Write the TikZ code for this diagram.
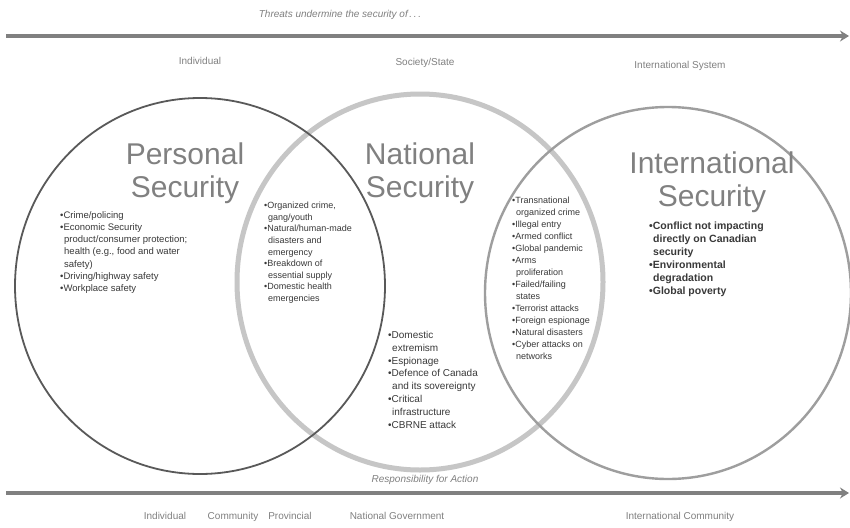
\documentclass[tikz,border=0pt]{standalone}
\usepackage{fontspec}
\setmainfont{Liberation Sans}
\usetikzlibrary{arrows.meta}
\definecolor{inkdark}{gray}{0.35}
\definecolor{inkmid}{gray}{0.5}
\definecolor{inklight}{gray}{0.62}
\tikzset{
  axisarrow/.style={line width=4pt, draw=inkmid, -{Stealth[length=9pt,width=11pt]}},
  axislabel/.style={font=\itshape\fontsize{10}{12}\selectfont, text=inkmid, anchor=base},
  levellabel/.style={font=\fontsize{10}{12}\selectfont, text=inkmid, anchor=base},
  title/.style={font=\fontsize{30}{33}\selectfont, text=inkmid, align=center},
  listtext/.style={anchor=north west, align=left, text=gray!45!black, inner sep=0pt},
  personalring/.style={draw=inkdark, line width=1.8pt},
  nationalring/.style={draw=gray!45, line width=5pt},
  internationalring/.style={draw=inklight, line width=2.4pt}
}
\newcommand{\ind}{\hspace*{4pt}}
\begin{document}
\begin{tikzpicture}[x=1pt,y=-1pt]
\useasboundingbox[fill=white] (0,0) rectangle (850,527);

% top axis
\coordinate (topL) at (6,36);
\coordinate (topR) at (849,36);
\draw[axisarrow] (topL) -- (topR);
\node[axislabel] (threats) at (340,18) {Threats undermine the security of\,.\,.\,.};
\node[levellabel] (lvIndividual) at (200,64) {Individual};
\node[levellabel] (lvSociety) at (425,66) {Society/State};
\node[levellabel] (lvSystem) at (680,68) {International System};

% circles
\draw[nationalring] (420,282) ellipse [x radius=183, y radius=188];
\draw[personalring] (200,286) ellipse [x radius=185, y radius=188];
\draw[internationalring] (668,293) ellipse [x radius=183, y radius=186];

% titles
\node[title] (tPersonal) at (185,173) {Personal\\Security};
\node[title] (tNational) at (420,173) {National\\Security};
\node[title] (tInternational) at (712,182) {International\\Security};

% lists
\node[listtext, font=\fontsize{9.5}{12.3}\selectfont] (lPersonal) at (60,211) {%
•Crime/policing\\
•Economic Security\\
\ind product/consumer protection;\\
\ind health (e.g., food and water\\
\ind safety)\\
•Driving/highway safety\\
•Workplace safety};

\node[listtext, font=\fontsize{9}{11.6}\selectfont] (lPN) at (264,202) {%
•Organized crime,\\
\ind gang/youth\\
•Natural/human-made\\
\ind disasters and\\
\ind emergency\\
•Breakdown of\\
\ind essential supply\\
•Domestic health\\
\ind emergencies};

\node[listtext, font=\fontsize{10}{12.8}\selectfont] (lNational) at (388,331) {%
•Domestic\\
\ind extremism\\
•Espionage\\
•Defence of Canada\\
\ind and its sovereignty\\
•Critical\\
\ind infrastructure\\
•CBRNE attack};

\node[listtext, font=\fontsize{9}{12}\selectfont] (lNI) at (512,197) {%
•Transnational\\
\ind organized crime\\
•Illegal entry\\
•Armed conflict\\
•Global pandemic\\
•Arms\\
\ind proliferation\\
•Failed/failing\\
\ind states\\
•Terrorist attacks\\
•Foreign espionage\\
•Natural disasters\\
•Cyber attacks on\\
\ind networks};

\node[listtext, font=\bfseries\fontsize{10.5}{13}\selectfont] (lInternational) at (649,222) {%
•Conflict not impacting\\
\ind directly on Canadian\\
\ind security\\
•Environmental\\
\ind degradation\\
•Global poverty};

% bottom axis
\node[axislabel] (responsibility) at (425,482) {Responsibility for Action};
\coordinate (botL) at (6,493);
\coordinate (botR) at (849,493);
\draw[axisarrow] (botL) -- (botR);
\node[levellabel] (rIndividual) at (165,519) {Individual};
\node[levellabel] (rCommunity) at (233,519) {Community};
\node[levellabel] (rProvincial) at (290,519) {Provincial};
\node[levellabel] (rNational) at (397,519) {National Government};
\node[levellabel] (rInternational) at (680,519) {International Community};
\end{tikzpicture}
\end{document}
